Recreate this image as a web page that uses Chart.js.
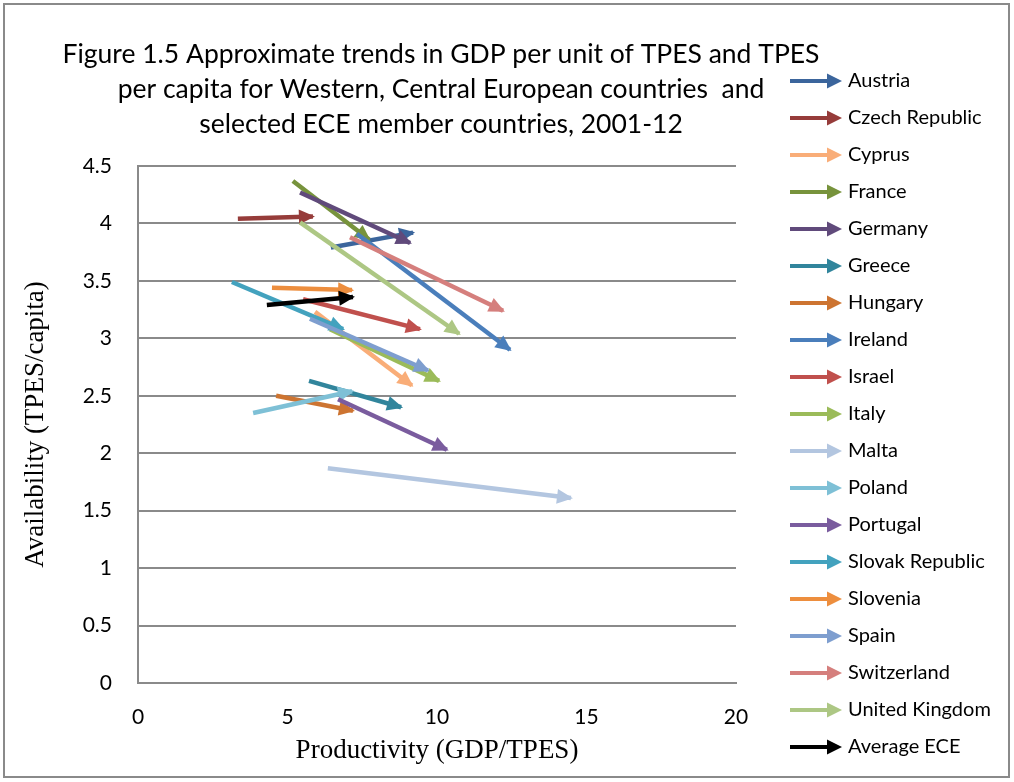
<!DOCTYPE html>
<html>
<head>
<meta charset="utf-8">
<script src="https://cdn.jsdelivr.net/npm/chart.js@4.4.1/dist/chart.umd.min.js"></script>
<style>
  html, body { margin: 0; padding: 0; background: #fff; }
  canvas { display: block; }
</style>
</head>
<body>
<canvas id="chart" width="1014" height="782"></canvas>
<script>
// Series: each country is one arrow from its 2001 position to its 2012 position
const countries = [
  'Austria', 'Czech Republic', 'Cyprus', 'France', 'Germany', 'Greece', 'Hungary',
  'Ireland', 'Israel', 'Italy', 'Malta', 'Poland', 'Portugal', 'Slovak Republic',
  'Slovenia', 'Spain', 'Switzerland', 'United Kingdom', 'Average ECE'
];
const productivity2001 = [6.45, 3.34, 5.92, 5.18, 5.42, 5.72, 4.62, 7.32, 5.52, 6.42, 6.35, 3.85, 6.69, 3.14, 4.48, 5.75, 7.09, 5.42, 4.31];
const availability2001 = [3.79, 4.04, 3.23, 4.37, 4.27, 2.63, 2.50, 3.91, 3.34, 3.08, 1.87, 2.35, 2.47, 3.49, 3.44, 3.17, 3.88, 4.01, 3.29];
const productivity2012 = [9.20, 5.85, 9.16, 7.73, 9.10, 8.80, 7.19, 12.44, 9.43, 10.07, 14.48, 7.16, 10.33, 6.86, 7.16, 9.70, 12.21, 10.74, 7.19];
const availability2012 = [3.92, 4.06, 2.59, 3.86, 3.83, 2.40, 2.37, 2.90, 3.08, 2.63, 1.61, 2.54, 2.03, 3.08, 3.42, 2.72, 3.24, 3.04, 3.36];
const seriesColors = [
  '#3b659c', '#963c3a', '#f9ad78', '#77933c', '#604a7b', '#31859c', '#cd7431',
  '#4a7ebb', '#c0504d', '#9bbb59', '#b3c6e0', '#7ec0d6', '#7a5c9e', '#43a2be',
  '#ed8e3e', '#7e9ecf', '#d57f7d', '#adc784', '#000000'
];
const xTicks = [0, 5, 10, 15, 20];
const yTicks = [0, 0.5, 1, 1.5, 2, 2.5, 3, 3.5, 4, 4.5];
const titleLines = [
  'Figure 1.5 Approximate trends in GDP per unit of TPES and TPES',
  'per capita for Western, Central European countries  and',
  'selected ECE member countries, 2001-12'
];
const xAxisTitle = 'Productivity (GDP/TPES)';
const yAxisTitle = 'Availability (TPES/capita)';

const SANS = 'Lato';
const SERIF = 'Liberation Serif';
const GRID = '#8a8a8a';

// Small arrow used as the legend symbol
function legendArrow(color) {
  const c = document.createElement('canvas');
  c.width = 93; c.height = 16;
  const g = c.getContext('2d');
  g.strokeStyle = color;
  g.lineWidth = 4;
  g.beginPath(); g.moveTo(41, 8); g.lineTo(80, 8); g.stroke();
  g.fillStyle = color;
  g.beginPath(); g.moveTo(93, 8); g.lineTo(78, 0.5); g.lineTo(78, 15.5); g.closePath(); g.fill();
  return c;
}

// Arrowhead at the 2012 end of every line
const arrowHeads = {
  id: 'arrowHeads',
  afterDatasetDraw(chart, args) {
    const pts = args.meta.data;
    if (pts.length < 2) return;
    const a = pts[pts.length - 2], b = pts[pts.length - 1];
    const dx = b.x - a.x, dy = b.y - a.y, len = Math.hypot(dx, dy) || 1;
    const ux = dx / len, uy = dy / len;
    const tipX = b.x + ux * 2, tipY = b.y + uy * 2;
    const L = 16, W = 7.5;
    const bx = tipX - ux * L, by = tipY - uy * L;
    const ctx = chart.ctx;
    ctx.save();
    ctx.fillStyle = chart.data.datasets[args.index].borderColor;
    ctx.beginPath();
    ctx.moveTo(tipX, tipY);
    ctx.lineTo(bx - uy * W, by + ux * W);
    ctx.lineTo(bx + uy * W, by - ux * W);
    ctx.closePath();
    ctx.fill();
    ctx.restore();
  }
};

// Three-line heading centred over the plot, plus the outer frame
const heading = {
  id: 'heading',
  afterLayout(chart) {
    // let the legend labels run up to the frame
    const lg = chart.legend;
    if (lg) { lg.right = chart.width - 6; lg.width = lg.right - lg.left; }
  },
  afterDraw(chart) {
    const ctx = chart.ctx;
    const area = chart.chartArea;
    ctx.save();
    ctx.font = '26.5px ' + SANS;
    ctx.fillStyle = '#000';
    ctx.textAlign = 'center';
    ctx.textBaseline = 'alphabetic';
    const cx = (area.left + area.right) / 2 + 4;
    titleLines.forEach((t, i) => ctx.fillText(t, cx, 63 + 35 * i));
    ctx.strokeStyle = GRID;
    ctx.lineWidth = 2;
    ctx.strokeRect(4, 4, chart.width - 9, chart.height - 9);
    ctx.restore();
  }
};

// Legend width decides where the plot ends on the right
const LEGEND_FONT = 20, LEGEND_PAD = 17, LEGEND_BOX = 85, PLOT_RIGHT = 736;
const meas = document.createElement('canvas').getContext('2d');
meas.font = LEGEND_FONT + 'px ' + SANS;
const widest = Math.max(...countries.map(t => meas.measureText(t).width));
const naturalLegend = LEGEND_PAD + LEGEND_BOX + LEGEND_FONT / 2 + widest + 10;
const legendW = Math.min(naturalLegend, PLOT_RIGHT / 3);
const padRight = 1014 - PLOT_RIGHT - legendW;

const datasets = countries.map((name, i) => ({
  label: name,
  data: [
    { x: productivity2001[i], y: availability2001[i] },
    { x: productivity2012[i], y: availability2012[i] }
  ],
  borderColor: seriesColors[i],
  backgroundColor: seriesColors[i],
  borderWidth: 4.5,
  borderCapStyle: 'butt',
  showLine: true,
  fill: false,
  pointRadius: 0,
  pointHoverRadius: 0,
  pointStyle: legendArrow(seriesColors[i]),
  order: -i,
  xAxisID: 'x',
  yAxisID: 'y'
}));

new Chart(document.getElementById('chart'), {
  type: 'scatter',
  data: { datasets },
  plugins: [arrowHeads, heading],
  options: {
    responsive: false,
    animation: false,
    devicePixelRatio: 1,
    events: [],
    layout: { padding: { top: 35, left: 0, right: padRight, bottom: 4 } },
    plugins: {
      tooltip: { enabled: false },
      title: { display: false },
      legend: {
        display: true,
        position: 'right',
        align: 'start',
        fullSize: true,
        title: { display: true, text: '', font: { size: 10, lineHeight: 1.2 }, padding: { top: 7, bottom: 0 } },
        labels: {
          usePointStyle: true,
          pointStyleWidth: LEGEND_BOX,
          padding: LEGEND_PAD,
          color: '#000',
          font: { family: SANS, size: LEGEND_FONT },
          sort: (a, b) => a.datasetIndex - b.datasetIndex
        }
      }
    },
    scales: {
      xTop: {
        type: 'linear',
        position: 'top',
        display: true,
        ticks: { display: false },
        grid: { display: false },
        border: { display: false },
        afterFit: s => { s.height = 131; }
      },
      x: {
        type: 'linear',
        position: 'bottom',
        min: xTicks[0],
        max: xTicks[xTicks.length - 1],
        afterBuildTicks: s => { s.ticks = xTicks.map(v => ({ value: v })); },
        grid: { display: false, drawTicks: false },
        border: { display: true, color: GRID, width: 2 },
        ticks: { color: '#000', padding: 22, font: { family: SANS, size: 21 }, callback: v => String(v) },
        title: {
          display: true, text: xAxisTitle, color: '#000',
          font: { family: SERIF, size: 27 }, padding: { top: 0, bottom: 11 }
        },
        afterFit: s => { s.height = 782 - 4 - 683; }
      },
      y: {
        type: 'linear',
        position: 'left',
        min: yTicks[0],
        max: yTicks[yTicks.length - 1],
        afterBuildTicks: s => { s.ticks = yTicks.map(v => ({ value: v })); },
        grid: { color: GRID, lineWidth: 2, drawTicks: false },
        border: { display: true, color: GRID, width: 2 },
        ticks: { color: '#000', padding: 26, font: { family: SANS, size: 21 }, callback: v => String(v) },
        title: {
          display: true, text: yAxisTitle, color: '#000',
          font: { family: SERIF, size: 27 }, padding: { top: 20, bottom: 0 }
        },
        afterFit: s => { s.width = 138; }
      }
    }
  }
});
</script>
</body>
</html>
